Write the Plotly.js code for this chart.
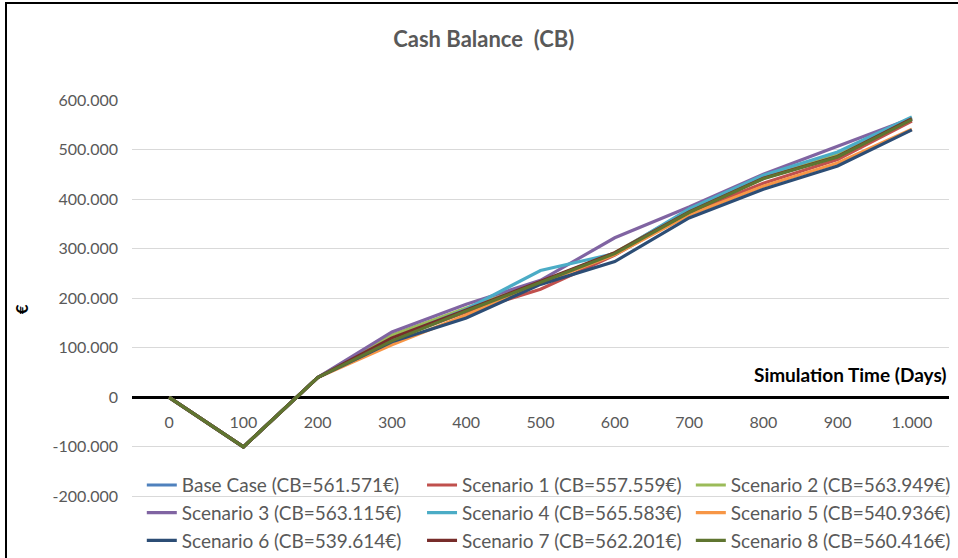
<!DOCTYPE html>
<html>
<head>
<meta charset="utf-8">
<script src="https://cdn.plot.ly/plotly-3.0.1.min.js"></script>
<style>
html,body{margin:0;padding:0;background:#fff;overflow:hidden;}
#wrap{position:relative;width:958px;height:558px;}
#chart{width:958px;height:558px;}
#frame{position:absolute;left:5px;top:2px;width:970px;height:570px;border:2.5px solid #000;pointer-events:none;}
</style>
</head>
<body>
<div id="wrap"><div id="chart"></div><div id="frame"></div></div>
<script>
var days = [0, 100, 200, 300, 400, 500, 600, 700, 800, 900, 1000];
var dayLabels = ['0', '100', '200', '300', '400', '500', '600', '700', '800', '900', '1.000'];
var yTicks = [-200000, -100000, 0, 100000, 200000, 300000, 400000, 500000, 600000];
var yLabels = ['-200.000', '-100.000', '0', '100.000', '200.000', '300.000', '400.000', '500.000', '600.000'];

var seriesNames = ['Base Case (CB=561.571€)', 'Scenario 1 (CB=557.559€)', 'Scenario 2 (CB=563.949€)',
  'Scenario 3 (CB=563.115€)', 'Scenario 4 (CB=565.583€)', 'Scenario 5 (CB=540.936€)',
  'Scenario 6 (CB=539.614€)', 'Scenario 7 (CB=562.201€)', 'Scenario 8 (CB=560.416€)'];

var baseCase  = [0, -100000, 40000, 117000, 175000, 232000, 290000, 375000, 443000, 487000, 561571];
var scenario1 = [0, -100000, 40000, 118000, 172000, 218000, 287000, 372000, 432000, 480000, 557559];
var scenario2 = [0, -100000, 40000, 126000, 180000, 232000, 292000, 377000, 446000, 490000, 563949];
var scenario3 = [0, -100000, 40000, 132000, 188000, 236000, 322000, 384000, 450000, 506000, 563115];
var scenario4 = [0, -100000, 40000, 118000, 178000, 256000, 290000, 380000, 448000, 495000, 565583];
var scenario5 = [0, -100000, 40000, 106000, 166000, 230000, 288000, 368000, 426000, 473000, 540936];
var scenario6 = [0, -100000, 40000, 112000, 160000, 228000, 274000, 362000, 420000, 467000, 539614];
var scenario7 = [0, -100000, 40000, 120000, 176000, 234000, 292000, 374000, 442000, 486000, 562201];
var scenario8 = [0, -100000, 40000, 114000, 174000, 232000, 290000, 373000, 441000, 485000, 560416];

var allSeries = [baseCase, scenario1, scenario2, scenario3, scenario4, scenario5, scenario6, scenario7, scenario8];
var colors = ['#4F81BD', '#C0504D', '#9BBB59', '#8064A2', '#4BACC6', '#F79646', '#2C4D75', '#772C2A', '#5F7530'];
var legendIds = ['legend', 'legend2', 'legend3'];

var traces = allSeries.map(function (vals, i) {
  return {
    x: days, y: vals, name: seriesNames[i], type: 'scatter', mode: 'lines',
    line: {color: colors[i], width: 3.2},
    legend: legendIds[i % 3]
  };
});

function legendAt(xPos) {
  return {orientation: 'v', x: xPos, xanchor: 'left', y: 0.179, yanchor: 'top',
          bgcolor: 'rgba(0,0,0,0)', font: {size: 19, color: '#595959'},
          itemwidth: 30, tracegroupgap: 0, traceorder: 'normal'};
}

var layout = {
  width: 958, height: 558,
  margin: {l: 132, r: 9, t: 100, b: 12, autoexpand: false},
  paper_bgcolor: '#fff', plot_bgcolor: '#fff',
  font: {family: 'Lato, "Open Sans", sans-serif', color: '#595959'},
  title: {text: 'Cash Balance  (CB)', x: 0.505, xanchor: 'center', y: 0.93, yanchor: 'middle',
          font: {size: 22, color: '#595959', family: 'Lato, sans-serif', weight: 'bold'}},
  showlegend: true,
  legend: legendAt(0.012),
  legend2: legendAt(0.355),
  legend3: legendAt(0.684),
  xaxis: {range: [-50, 1050], tickvals: days, ticktext: dayLabels, showgrid: false,
          zeroline: false, showline: false, ticks: '', anchor: 'free', position: 0.332,
          ticklabelstandoff: 13, tickfont: {size: 16, color: '#595959'}, fixedrange: true},
  yaxis: {range: [-300000, 600000], tickvals: yTicks, ticktext: yLabels, showgrid: true,
          gridcolor: '#D9D9D9', gridwidth: 1, zeroline: true, zerolinecolor: '#000',
          zerolinewidth: 2.5, showline: false, ticks: '', ticklabelstandoff: 13,
          tickfont: {size: 16, color: '#595959'}, fixedrange: true},
  annotations: [
    {text: 'Simulation Time (Days)', xref: 'paper', yref: 'y', x: 1.0, y: 46000,
     xanchor: 'right', yanchor: 'middle', showarrow: false,
     font: {size: 19, color: '#000', family: 'Lato, sans-serif', weight: 'bold'}},
    {text: '€', xref: 'paper', yref: 'y', x: -0.135, y: 177000, textangle: -90,
     xanchor: 'center', yanchor: 'middle', showarrow: false,
     font: {size: 17, color: '#000', family: 'Lato, sans-serif', weight: 'bold'}}
  ]
};

Plotly.newPlot('chart', traces, layout, {displayModeBar: false, staticPlot: true});
</script>
</body>
</html>
